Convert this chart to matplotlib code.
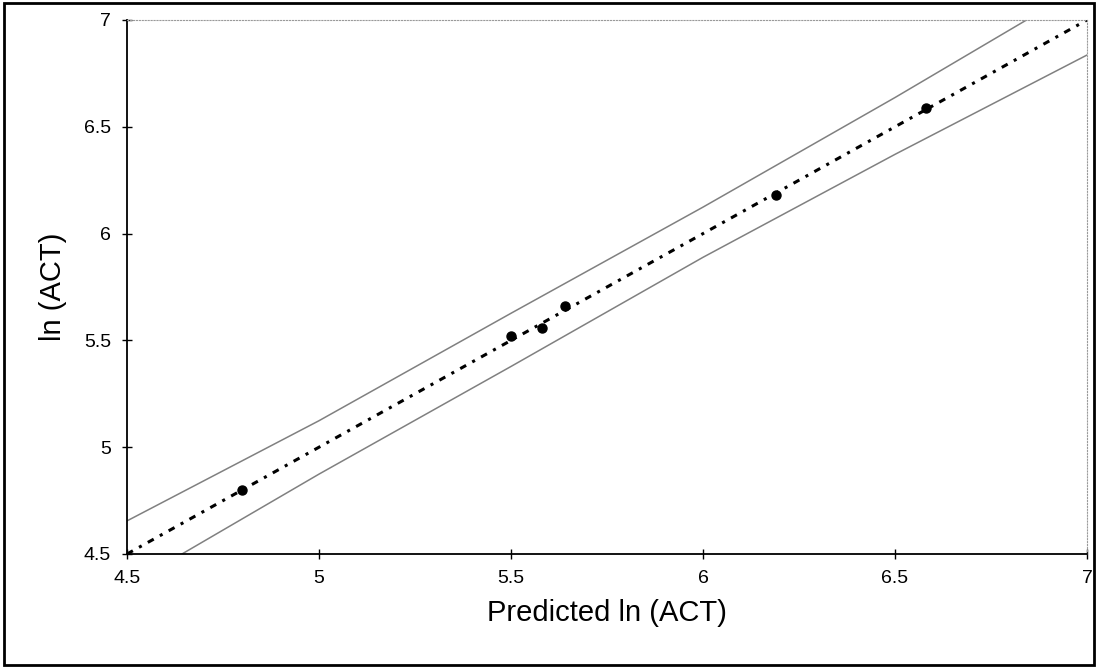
import matplotlib
matplotlib.use('Agg')
import matplotlib.pyplot as plt
from matplotlib.patches import Rectangle

plt.rcParams['font.family'] = ['Liberation Sans', 'DejaVu Sans']

# observed points
pred = [4.80, 5.50, 5.58, 5.64, 6.19, 6.58]
act = [4.80, 5.52, 5.56, 5.66, 6.18, 6.59]

# fitted line
fit_x = [4.5, 7.0]
fit_y = [4.5, 7.0]

# band lines
band_x = [4.5, 5.0, 5.5, 6.0, 6.5, 7.0]
band_upper = [4.655, 5.124, 5.627, 6.124, 6.637, 7.167]
band_lower = [4.350, 4.874, 5.378, 5.889, 6.371, 6.836]

ticks = [4.5, 5.0, 5.5, 6.0, 6.5, 7.0]
tick_labels = ['4.5', '5', '5.5', '6', '6.5', '7']

fig = plt.figure(figsize=(10.98, 6.67), dpi=100)
ax = fig.add_axes([127 / 1098, 113 / 667, 960 / 1098, 534 / 667])

# outer border round the whole figure
fig.patches.append(Rectangle((4 / 1098, 2 / 667), 1090 / 1098, 662 / 667,
                             transform=fig.transFigure, fill=False,
                             edgecolor='black', linewidth=2))

ax.plot(band_x, band_upper, color='#808080', linewidth=1.1)
ax.plot(band_x, band_lower, color='#808080', linewidth=1.1)
ax.plot(fit_x, fit_y, color='black', linewidth=2.2, dashes=(2.2, 2.3, 1, 2.3))
ax.plot(pred, act, 'o', color='black', markersize=6.5)

ax.set_xlim(4.5, 7)
ax.set_ylim(4.5, 7)
ax.set_xticks(ticks)
ax.set_xticklabels(tick_labels)
ax.set_yticks(ticks)
ax.set_yticklabels(tick_labels)
ax.tick_params(direction='inout', length=7, width=1, labelsize=14)
ax.tick_params(axis='x', pad=8)
ax.tick_params(axis='y', pad=8)

for side in ['left', 'bottom']:
    ax.spines[side].set_linewidth(1.3)
    ax.spines[side].set_color('black')
for side in ['top', 'right']:
    ax.spines[side].set_linewidth(0.8)
    ax.spines[side].set_color('#9a9a9a')
    ax.spines[side].set_linestyle(':')

ax.set_xlabel('Predicted ln (ACT)', fontsize=21, labelpad=9)
ax.set_ylabel('ln (ACT)', fontsize=21, labelpad=12)

fig.savefig('out.png', dpi=100)
